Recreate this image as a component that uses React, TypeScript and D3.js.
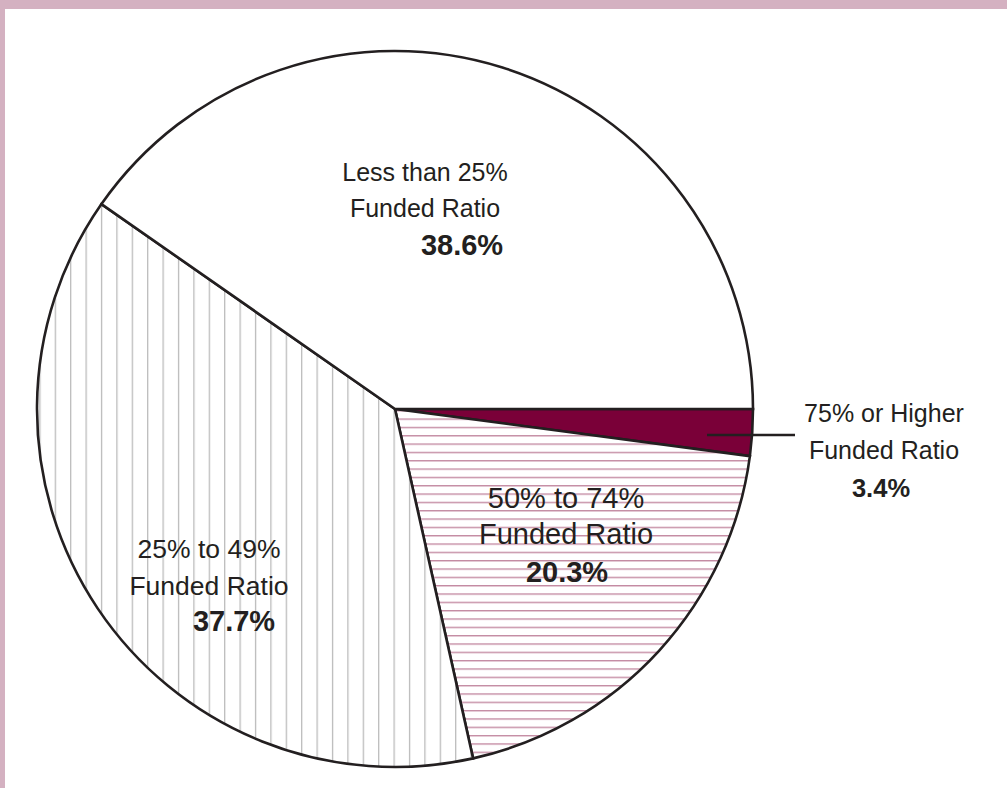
import React, { useEffect, useRef } from "react";
import * as d3 from "d3";

// Categories in drawing order (clockwise from 3 o'clock)
const categories = ["75% or Higher Funded Ratio", "50% to 74% Funded Ratio", "25% to 49% Funded Ratio", "Less than 25% Funded Ratio"];
const labelLine1 = ["75% or Higher", "50% to 74%", "25% to 49%", "Less than 25%"];
const labelLine2 = ["Funded Ratio", "Funded Ratio", "Funded Ratio", "Funded Ratio"];
// Printed values
const values = [3.4, 20.3, 37.7, 38.6];
// Slice sizes as drawn in the picture (angular share, %)
const sliceShares = [2.1, 19.4, 38.2, 40.3];
const fills = ["#7a0038", "url(#hpat)", "url(#vpat)", "#ffffff"];

export default function App() {
  const ref = useRef<SVGSVGElement | null>(null);

  useEffect(() => {
    document.body.style.margin = "0";
    const W = 1007, H = 788;
    const svg = d3.select(ref.current);
    svg.selectAll("*").remove();
    svg.attr("width", W).attr("height", H);

    const defs = svg.append("defs");
    const vp = defs.append("pattern").attr("id", "vpat").attr("patternUnits", "userSpaceOnUse")
      .attr("width", 15.4).attr("height", 20).attr("x", 60.7 - 0.6).attr("y", 0);
    vp.append("rect").attr("width", 15.4).attr("height", 20).attr("fill", "#fff");
    vp.append("line").attr("x1", 0.6).attr("x2", 0.6).attr("y1", 0).attr("y2", 20)
      .attr("stroke", "#b9b9b9").attr("stroke-width", 1.3);
    const hp = defs.append("pattern").attr("id", "hpat").attr("patternUnits", "userSpaceOnUse")
      .attr("width", 20).attr("height", 8.33).attr("x", 0).attr("y", 418.3 - 0.7);
    hp.append("rect").attr("width", 20).attr("height", 8.33).attr("fill", "#fff");
    hp.append("line").attr("x1", 0).attr("x2", 20).attr("y1", 0.7).attr("y2", 0.7)
      .attr("stroke", "#c48ba3").attr("stroke-width", 1.4);

    svg.append("rect").attr("x", 0).attr("y", 0).attr("width", W).attr("height", H).attr("fill", "#ffffff");
    svg.append("rect").attr("x", 0).attr("y", 0).attr("width", W).attr("height", 9).attr("fill", "#d4b1c1");
    svg.append("rect").attr("x", 0).attr("y", 0).attr("width", 5).attr("height", H).attr("fill", "#d4b1c1");

    const cx = 395, cy = 409, r = 358;
    const pie = d3.pie<number>().sort(null).value(d => d)
      .startAngle(Math.PI / 2).endAngle(Math.PI / 2 + 2 * Math.PI);
    const arcs = pie(sliceShares);
    const arc = d3.arc<d3.PieArcDatum<number>>().innerRadius(0).outerRadius(r);

    const g = svg.append("g").attr("transform", `translate(${cx},${cy})`);
    g.selectAll("path.slice").data(arcs).enter().append("path")
      .attr("class", "slice")
      .attr("d", d => arc(d) as string)
      .attr("fill", (_d, i) => fills[i])
      .attr("stroke", "#231f20").attr("stroke-width", 2.6).attr("stroke-linejoin", "miter");

    // leader line for small slice
    svg.append("line").attr("x1", 707).attr("x2", 795).attr("y1", 435).attr("y2", 435)
      .attr("stroke", "#231f20").attr("stroke-width", 2.4);

    const labelPos = [
      { x: 884, bx: 881, y1: 422, y2: 459, y3: 497, fs: 25, bfs: 25.5 },
      { x: 566, bx: 567, y1: 508, y2: 544, y3: 582, fs: 29, bfs: 29 },
      { x: 209, bx: 234, y1: 557.5, y2: 594.5, y3: 631, fs: 26.5, bfs: 29 },
      { x: 425, bx: 462, y1: 181, y2: 217, y3: 255, fs: 25, bfs: 29 },
    ];
    const font = "'Liberation Sans', Arial, Helvetica, sans-serif";
    const lg = svg.append("g").attr("font-family", font).attr("fill", "#231f20");
    categories.forEach((_c, i) => {
      const p = labelPos[i];
      lg.append("text").attr("x", p.x).attr("y", p.y1).attr("font-size", p.fs).attr("text-anchor", "middle").text(labelLine1[i]);
      lg.append("text").attr("x", p.x).attr("y", p.y2).attr("font-size", p.fs).attr("text-anchor", "middle").text(labelLine2[i]);
      lg.append("text").attr("x", p.bx).attr("y", p.y3).attr("font-size", p.bfs).attr("text-anchor", "middle")
        .attr("font-weight", "bold").text(`${values[i].toFixed(1)}%`);
    });
  }, []);

  return <svg ref={ref} style={{ position: "absolute", left: 0, top: 0, display: "block" }} />;
}
